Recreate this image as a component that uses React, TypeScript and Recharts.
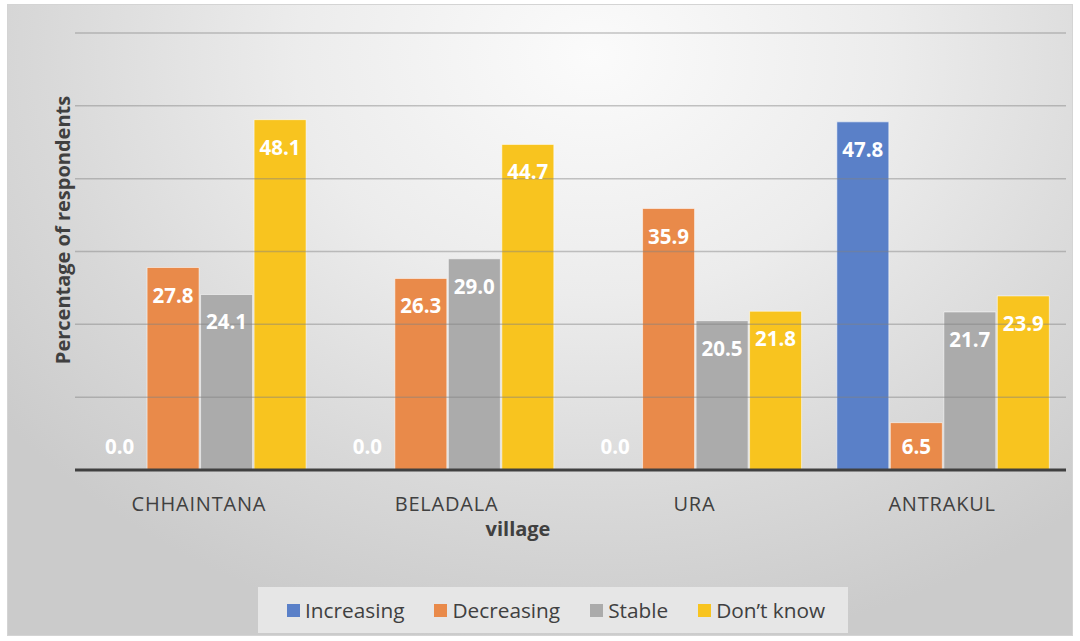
import React from 'react';
import { BarChart, Bar, XAxis, YAxis, LabelList, Legend, ReferenceLine, Rectangle } from 'recharts';

const villages = ['CHHAINTANA', 'BELADALA', 'URA', 'ANTRAKUL'];
const increasing = [0.0, 0.0, 0.0, 47.8];
const decreasing = [27.8, 26.3, 35.9, 6.5];
const stable = [24.1, 29.0, 20.5, 21.7];
const dontKnow = [48.1, 44.7, 21.8, 23.9];
const yTicks = [0, 10, 20, 30, 40, 50, 60];

const seriesNames = ['Increasing', 'Decreasing', 'Stable', 'Don\u2019t know'];
const seriesKeys = ['increasing', 'decreasing', 'stable', 'dontKnow'];
const seriesColors = ['#5A80C8', '#E98A4A', '#ABABAB', '#F8C41F'];

const data = villages.map((v, i) => ({
  village: v,
  increasing: increasing[i],
  decreasing: decreasing[i],
  stable: stable[i],
  dontKnow: dontKnow[i],
}));

const FONT = '"Open Sans", sans-serif';

const renderValueLabel = (props: any) => {
  const vb = props.viewBox || {};
  const x = props.x ?? vb.x;
  const y = props.y ?? vb.y;
  const width = props.width ?? vb.width;
  const height = props.height ?? vb.height;
  const value = props.value;
  const bottom = y + height;
  const top = Number(value) === 0 ? bottom : y;
  const cy = Math.min(top + 27, bottom - 24);
  return (
    <text
      x={x + width / 2}
      y={cy}
      textAnchor="middle"
      dominantBaseline="central"
      fill="#ffffff"
      fontFamily={FONT}
      fontWeight={700}
      fontSize={20.5}
    >
      {Number(value).toFixed(1)}
    </text>
  );
};

const renderShape = (props: any) => {
  const v = props.value;
  const val = Array.isArray(v) ? v[1] - v[0] : v;
  if (Number(val) === 0) return <g />;
  return <Rectangle {...props} />;
};

const renderTick = (props: any) => {
  const { x, y, payload } = props;
  return (
    <text
      x={x}
      y={y + 25}
      textAnchor="middle"
      dominantBaseline="central"
      fill="#404040"
      fontFamily={FONT}
      fontSize={20}
      letterSpacing={0.8}
    >
      {payload.value}
    </text>
  );
};

const renderLegend = () => (
  <div
    style={{
      position: 'absolute',
      left: 251,
      top: 583,
      width: 590,
      height: 46,
      background: '#e6e6e6',
      display: 'flex',
      alignItems: 'center',
      fontFamily: FONT,
      fontSize: 20.8,
      color: '#404040',
      boxSizing: 'border-box',
      paddingLeft: 29,
    }}
  >
    {seriesNames.map((n, i) => (
      <div key={n} style={{ display: 'flex', alignItems: 'center', marginRight: i === 3 ? 0 : 30 }}>
        <div style={{ width: 13, height: 13, background: seriesColors[i], marginRight: 5 }} />
        <span>{n}</span>
      </div>
    ))}
  </div>
);

export default function App() {
  return (
    <div
      style={{
        position: 'absolute',
        left: 7,
        top: 4,
        width: 1066,
        height: 632,
        border: '1px solid #d4d4d4',
        boxSizing: 'border-box',
        background:
          'radial-gradient(ellipse 70% 95% at 55% 8%, #fbfbfb 0%, #ececec 40%, #d8d8d8 75%, #cbcbcb 100%)',
        overflow: 'hidden',
      }}
    >
      <BarChart
        width={1066}
        height={632}
        data={data}
        margin={{ top: 29, right: 7, bottom: 126, left: 38 }}
        barCategoryGap="7.5%"
        barGap={1.5}
        style={{ position: 'absolute', left: -1, top: -1 }}
      >
        <YAxis
          domain={[0, 60]}
          ticks={yTicks}
          width={30}
          tick={false}
          axisLine={false}
          tickLine={false}
          label={{
            content: () => (
              <text
                x={55}
                y={226}
                transform="rotate(-90 55 226)"
                textAnchor="middle"
                dominantBaseline="central"
                fill="#404040"
                fontFamily={FONT}
                fontWeight={700}
                fontSize={20}
              >
                Percentage of respondents
              </text>
            ),
          }}
        />
        {yTicks.slice(1).map((t) => (
          <ReferenceLine key={t} y={t} stroke="#808080" strokeOpacity={0.45} strokeWidth={1.5} />
        ))}
        <XAxis
          dataKey="village"
          height={40}
          tick={renderTick}
          tickLine={false}
          axisLine={{ stroke: '#404040', strokeWidth: 3 }}
          interval={0}
          label={{
            content: () => (
              <text
                x={511}
                y={524}
                textAnchor="middle"
                dominantBaseline="central"
                fill="#404040"
                fontFamily={FONT}
                fontWeight={700}
                fontSize={20}
              >
                village
              </text>
            ),
          }}
        />
        {seriesKeys.map((k, i) => (
          <Bar
            key={k}
            dataKey={k}
            name={seriesNames[i]}
            fill={seriesColors[i]}
            stroke="#ffffff"
            strokeOpacity={0.55}
            strokeWidth={1}
            minPointSize={1}
            shape={renderShape}
            isAnimationActive={false}
          >
            <LabelList dataKey={k} content={renderValueLabel} />
          </Bar>
        ))}
        <Legend content={renderLegend} wrapperStyle={{ position: 'absolute', left: 0, top: 0, width: 0, height: 0 }} />
      </BarChart>
    </div>
  );
}
